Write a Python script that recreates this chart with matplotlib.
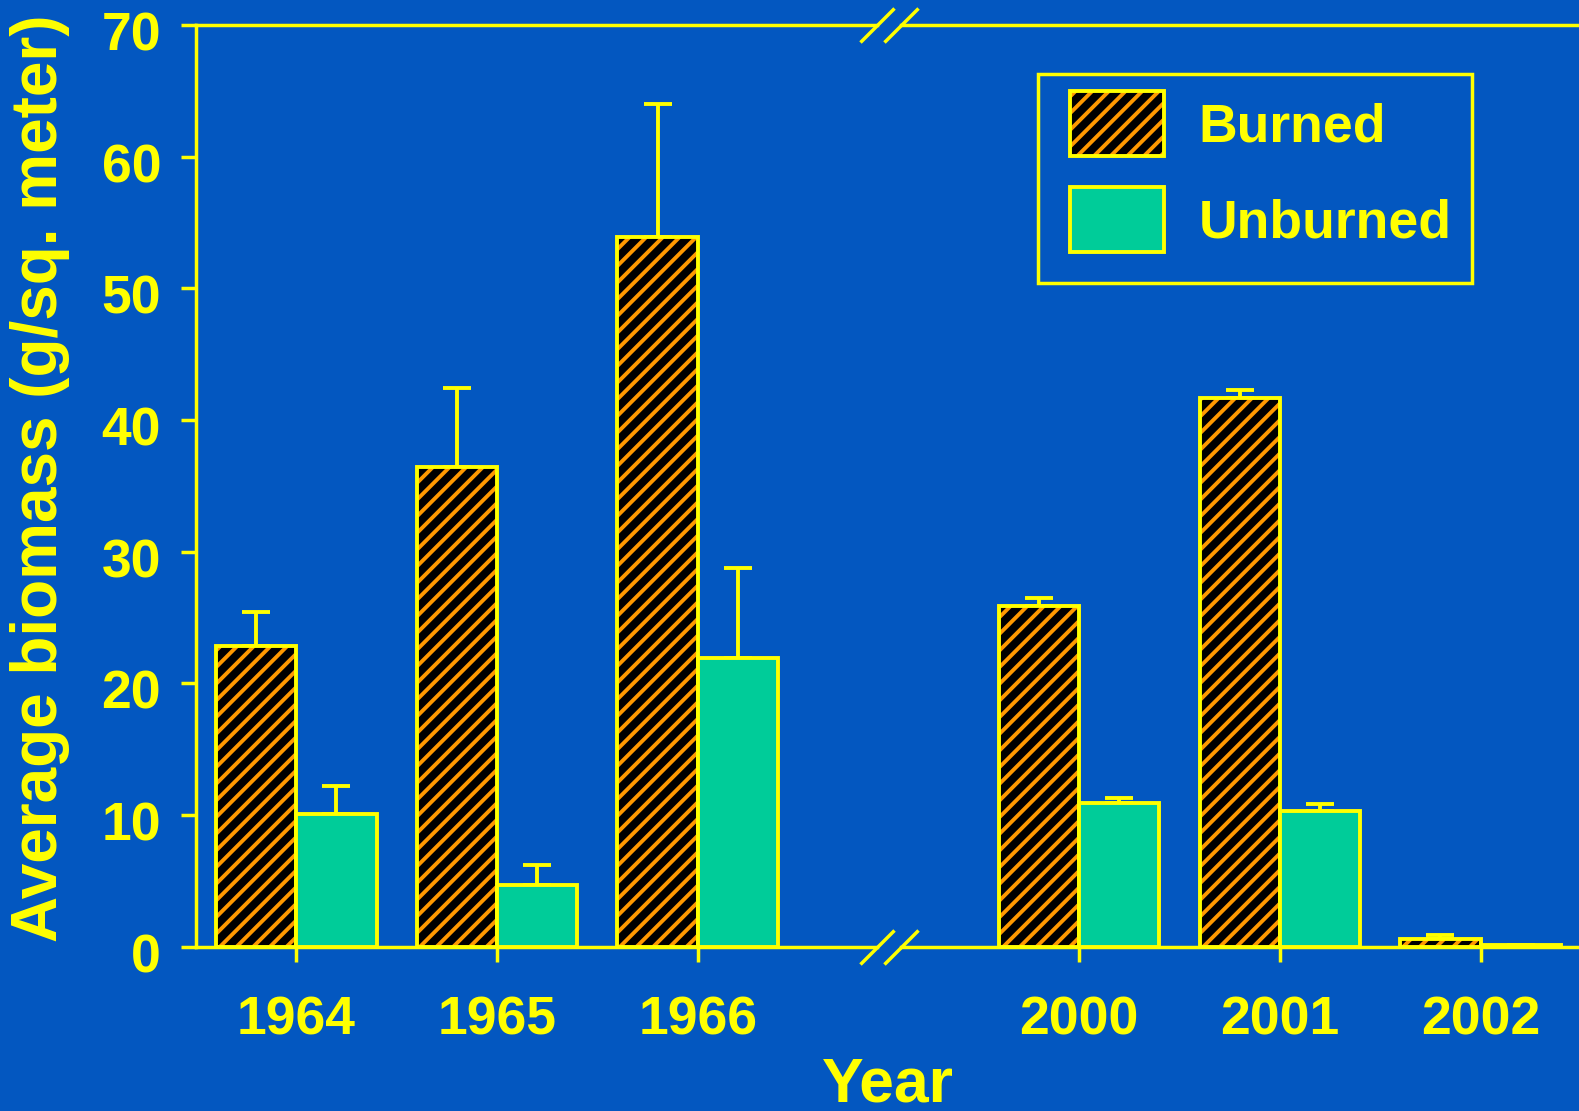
import numpy as np
import matplotlib
matplotlib.use("Agg")
import matplotlib.pyplot as plt
from matplotlib.patches import Patch, Rectangle
from matplotlib.legend_handler import HandlerTuple
from matplotlib.transforms import ScaledTranslation

# biomass per year, burned vs unburned plots (mean + upper error)
years = ["1964", "1965", "1966", "2000", "2001", "2002"]
burned = [22.8, 36.4, 53.9, 25.9, 41.7, 0.6]
burned_err = [2.6, 6.0, 10.1, 0.6, 0.6, 0.25]
unburned = [10.1, 4.7, 21.9, 10.9, 10.3, 0.1]
unburned_err = [2.1, 1.5, 6.9, 0.4, 0.5, 0.0]

BLUE = "#0357c0"
YELLOW = "#ffff00"
ORANGE = "#ff9900"
TEAL = "#00cc99"

plt.rcParams["font.family"] = ["Liberation Sans", "DejaVu Sans"]
plt.rcParams["font.weight"] = "bold"
plt.rcParams["hatch.linewidth"] = 2.8

fig = plt.figure(figsize=(15.79, 11.11), dpi=100, facecolor=BLUE)
ax = fig.add_axes([0.1241, 0.148, 0.8759, 0.8293])
ax.set_facecolor(BLUE)

# gap between the 1960s and the 2000s groups
idx = np.arange(len(years))
x = idx + np.where(idx >= 3, 0.9, 0.0)
w = 0.4

xmin, xmax = -0.5, 6.39
ax.set_xlim(xmin, xmax)
ax.set_ylim(0, 70)

ax.bar(x - w / 2, burned, w, color="black", edgecolor=ORANGE, hatch="//", linewidth=0, zorder=2)
ax.bar(x - w / 2, burned, w, fill=False, edgecolor=YELLOW, linewidth=2.8, zorder=3)
ax.bar(x + w / 2, unburned, w, color=TEAL, edgecolor=YELLOW, linewidth=2.8, zorder=3)

zeros = np.zeros(len(years))
ax.errorbar(x - w / 2, burned, yerr=[zeros, burned_err], fmt="none", ecolor=YELLOW,
            elinewidth=2.8, capsize=10, capthick=2.8, zorder=1)
ax.errorbar(x + w / 2, unburned, yerr=[zeros, unburned_err], fmt="none", ecolor=YELLOW,
            elinewidth=2.8, capsize=10, capthick=2.8, zorder=1)

# axes frame: left spine kept, top/bottom drawn by hand with a break
for s in ["top", "bottom", "right"]:
    ax.spines[s].set_visible(False)
ax.spines["left"].set_color(YELLOW)
ax.spines["left"].set_linewidth(2.5)

brk_lo, brk_hi = 2.893, 3.013
tr = ax.get_xaxis_transform()
for yy in (0, 1):
    ax.plot([xmin, brk_lo], [yy, yy], color=YELLOW, lw=2.5, transform=tr, clip_on=False, zorder=5)
    ax.plot([brk_hi, xmax], [yy, yy], color=YELLOW, lw=2.5, transform=tr, clip_on=False, zorder=5)
    ax.plot([brk_lo, brk_hi], [yy, yy], linestyle="none", marker=[(-1, -1), (1, 1)],
            markersize=24.5, mec=YELLOW, mew=2.5, transform=tr, clip_on=False, zorder=5)

ax.set_yticks(np.arange(0, 71, 10))
ax.set_xticks(x)
ax.set_xticklabels(years)
ax.tick_params(axis="y", colors=YELLOW, labelsize=38.5, length=11, width=2.5, direction="out", pad=14)
ax.tick_params(axis="x", colors=YELLOW, labelsize=38.5, length=11, width=2.5, direction="out", pad=24)
shift = ScaledTranslation(0, -0.06, fig.dpi_scale_trans)
for lab in ax.get_yticklabels():
    lab.set_transform(lab.get_transform() + shift)

ax.set_ylabel("Average biomass (g/sq. meter)", color=YELLOW, fontsize=46, fontweight="bold")
ax.yaxis.set_label_coords(-0.1128, 0.5086)
ax.set_xlabel("Year", color=YELLOW, fontsize=45, fontweight="bold")
ax.xaxis.set_label_coords(0.5, -0.15)
ax.xaxis.label.set_va("center")
ax.yaxis.label.set_va("center")

# legend box drawn separately so its padding can be set freely
ax.add_artist(Rectangle((0.6574, 0.7453), 0.2749, 0.1877, transform=fig.transFigure,
                        facecolor=BLUE, edgecolor=YELLOW, linewidth=2.5, clip_on=False, zorder=4))
h_burned = (Patch(facecolor="black", edgecolor=ORANGE, hatch="//", linewidth=0),
            Patch(facecolor="none", edgecolor=YELLOW, linewidth=2.8))
h_unburned = Patch(facecolor=TEAL, edgecolor=YELLOW, linewidth=2.8)
leg = ax.legend([h_burned, h_unburned], ["Burned", "Unburned"],
                handler_map={tuple: HandlerTuple(ndivide=1)},
                loc="upper left", bbox_to_anchor=(0.6777, 0.9181), bbox_transform=fig.transFigure,
                fontsize=38.5, handlelength=1.75, handleheight=1.5, handletextpad=0.65,
                labelspacing=0.58, borderpad=0, borderaxespad=0, frameon=False)
leg.set_zorder(6)
for t in leg.get_texts():
    t.set_color(YELLOW)
    t.set_fontweight("bold")

fig.savefig("out.png", dpi=100, facecolor=BLUE)
